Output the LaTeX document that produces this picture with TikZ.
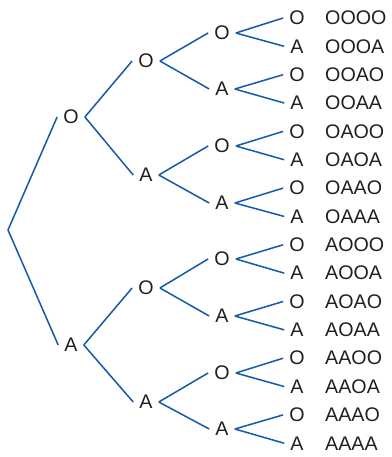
\documentclass[tikz,border=0pt]{standalone}
\usepackage{fontspec}
\setmainfont{Liberation Sans}
\usetikzlibrary{positioning}
\definecolor{treeblue}{RGB}{20, 92, 170}
\definecolor{letterblack}{RGB}{35, 31, 32}

\begin{document}
\begin{tikzpicture}[
    x=0.03cm, y=-0.03cm,
    letter/.style={text=letterblack, font=\fontsize{16.8}{16.8}\selectfont,
                   inner xsep=0.18cm, inner ysep=0pt},
    outcome/.style={text=letterblack, font=\fontsize{16.8}{16.8}\selectfont,
                    anchor=west, inner sep=0pt},
    branch/.style={treeblue, line width=1.3pt},
]
\useasboundingbox (0,0) rectangle (391,457);

\coordinate (root) at (8,230);

% first toss
\node[letter] (O) at (71,117) {O};
\node[letter] (A) at (71,345) {A};

% second toss
\node[letter] (OO) at (146,61) {O};
\node[letter] (OA) at (146,175) {A};
\node[letter] (AO) at (146,288) {O};
\node[letter] (AA) at (146,402) {A};

% third toss
\node[letter] (OOO) at (222,33) {O};
\node[letter] (OOA) at (222,89) {A};
\node[letter] (OAO) at (222,146) {O};
\node[letter] (OAA) at (222,203) {A};
\node[letter] (AOO) at (222,259) {O};
\node[letter] (AOA) at (222,316) {A};
\node[letter] (AAO) at (222,373) {O};
\node[letter] (AAA) at (222,429) {A};

% fourth toss and outcomes
\foreach \last/\seq [count=\i from 0] in {O/OOOO, A/OOOA, O/OOAO, A/OOAA,
    O/OAOO, A/OAOA, O/OAAO, A/OAAA, O/AOOO, A/AOOA, O/AOAO, A/AOAA,
    O/AAOO, A/AAOA, O/AAAO, A/AAAA} {
  \node[letter] (\seq) at (297,18+28.35*\i) {\last};
  \node[outcome] (seq-\seq) at (325,18+28.35*\i) {\seq};
}

\draw[branch] (root) -- (O.west);
\draw[branch] (root) -- (A.west);
\foreach \p in {O,A,OO,OA,AO,AA,OOO,OOA,OAO,OAA,AOO,AOA,AAO,AAA}
  \draw[branch] (\p.east) -- (\p O.west) (\p.east) -- (\p A.west);

\end{tikzpicture}
\end{document}
